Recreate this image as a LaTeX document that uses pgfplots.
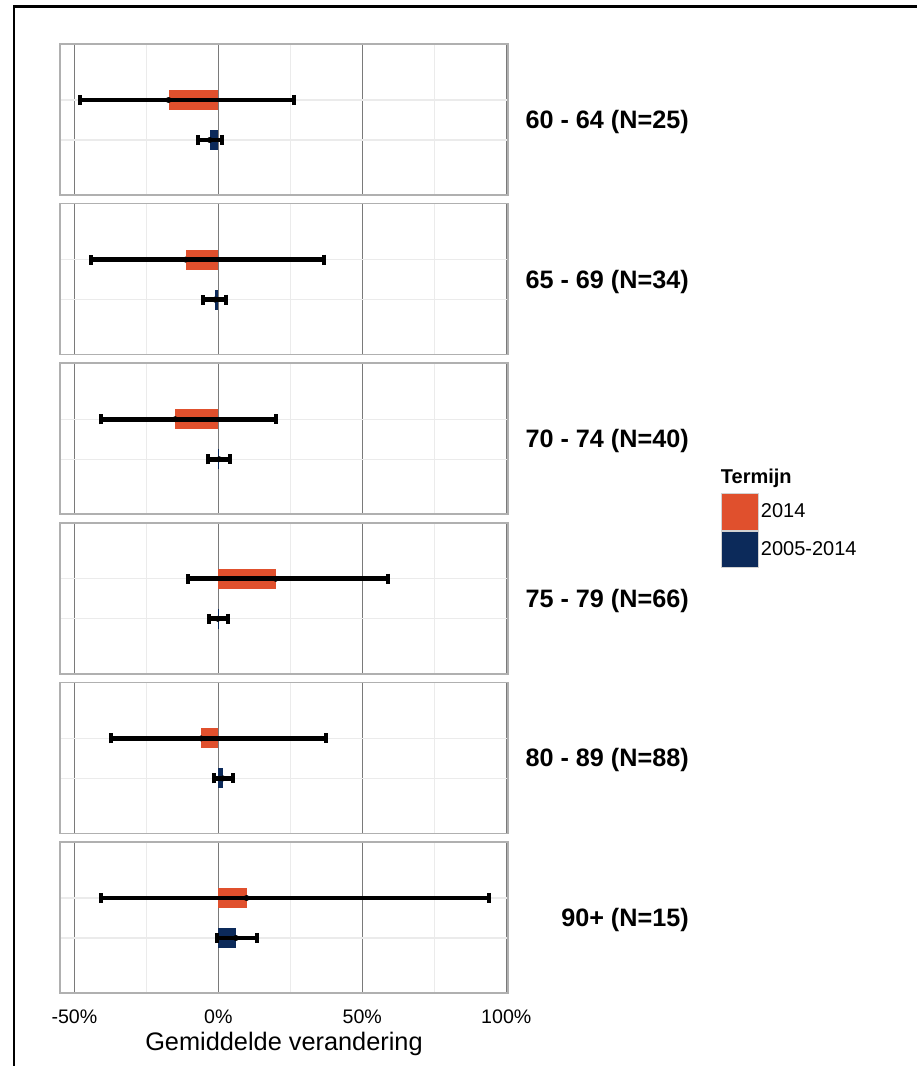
\documentclass[border=0pt]{standalone}
\usepackage{pgfplots}
\pgfplotsset{compat=1.18}
\usepackage{fontspec}
\setmainfont{Liberation Sans}
\definecolor{orng}{HTML}{E0502D}
\definecolor{navy}{HTML}{0C2A5A}
\definecolor{majgrid}{HTML}{7A7A7A}
\definecolor{mingrid}{HTML}{EBEBEB}
\definecolor{bordr}{HTML}{B0B0B0}

\pgfplotsset{
 panel/.style={
   scale only axis, width=336pt, height=113.25pt,
   xmin=-55, xmax=100.6, ymin=-1.375, ymax=2.4,
   anchor=north west,
   xtick={-50,0,50,100}, minor xtick={-25,25,75},
   ytick={0,1}, yticklabels={},
   xticklabels={},
   major tick length=0pt, minor tick length=0pt,
   xmajorgrids, xminorgrids, ymajorgrids,
   major x grid style={majgrid, line width=0.75pt},
   minor x grid style={mingrid, line width=0.75pt},
   major y grid style={mingrid, line width=0.9pt},
   axis line style={bordr, line width=1.3pt},
   clip=false,
 },
 obar/.style={xbar, bar shift=0pt, bar width=0.5, fill=orng, draw=none,
   legend image code/.code={\draw[fill=orng, draw=gray!35, line width=0.4pt] (0pt,-13.75pt) rectangle (27.75pt,13.75pt);}},
 nbar/.style={xbar, bar shift=0pt, bar width=0.5, fill=navy, draw=none,
   legend image code/.code={\draw[fill=navy, draw=gray!35, line width=0.4pt] (0pt,-13.75pt) rectangle (27.75pt,13.75pt);}},
 errb/.style={only marks, mark=none, forget plot,
   error bars/.cd, x dir=both, x explicit,
   error mark=|,
   error bar style={black, line width=3.6pt},
   error mark options={black, line width=3pt, mark size=3.8pt}},
}

% #1 top, #2 label, #3 mean 2014, #4 +err, #5 -err, #6 mean 2005-2014, #7 +err, #8 -err, #9 extra options
\newcommand\panel[9]{%
\begin{axis}[panel, at={(45pt,#1)}, #9]
\addplot[obar] coordinates {(#3,1)};
\addplot[nbar] coordinates {(#6,0)};
\addplot[errb] coordinates {(#3,1) += (#4,0) -= (#5,0) (#6,0) += (#7,0) -= (#8,0)};
\node[anchor=east, inner sep=0pt, yshift=-1.8pt, font=\bfseries\fontsize{18.9}{20}\selectfont] at (rel axis cs:1.404,0.5) {#2};
\end{axis}}

\begin{document}
\begin{tikzpicture}
\path[use as bounding box] (0,0) rectangle (687.75pt,-799.5pt);
\draw[black, line width=1.6pt] (10.5pt,-799.5pt) -- (10.5pt,-4.9pt) -- (687.75pt,-4.9pt);

\panel{-33pt}{60 - 64 (N=25)}{-17.3}{43.7}{30.6}{-3.0}{4.3}{4.0}{}
\panel{-152.7pt}{65 - 69 (N=34)}{-11.4}{48.0}{33.0}{-1.2}{3.7}{4.1}{}
\panel{-272.4pt}{70 - 74 (N=40)}{-15.0}{34.9}{25.9}{0.3}{3.6}{4.0}{
  legend entries={2014,2005-2014},
  legend cell align=left,
  legend style={at={(1.4748,0.1384)}, anchor=north west, draw=none, fill=none,
    inner sep=0pt, outer sep=0pt, row sep=0pt,
    font=\fontsize{15}{17}\selectfont,
    /tikz/every odd column/.append style={column sep=0pt}}}
\panel{-392.1pt}{75 - 79 (N=66)}{19.9}{38.9}{30.4}{-0.2}{3.6}{3.2}{}
\panel{-511.8pt}{80 - 89 (N=88)}{-6.0}{43.3}{31.3}{1.6}{3.5}{3.2}{}
\panel{-631.5pt}{90+ (N=15)}{9.8}{84.1}{50.4}{6.1}{7.4}{6.7}{
  xticklabels={-50\%,0\%,50\%,100\%},
  xticklabel style={anchor=north, inner sep=0pt, yshift=-12.75pt, font=\fontsize{14.7}{16}\selectfont},
  xlabel={Gemiddelde verandering},
  xlabel style={at={(axis description cs:0.5,0)}, anchor=north, inner sep=0pt, yshift=-28.9pt, font=\fontsize{19}{21}\selectfont}}

\node[anchor=base west, inner sep=0pt, font=\bfseries\fontsize{15}{17}\selectfont] at (540.5pt,-362.25pt) {Termijn};
\end{tikzpicture}
\end{document}
